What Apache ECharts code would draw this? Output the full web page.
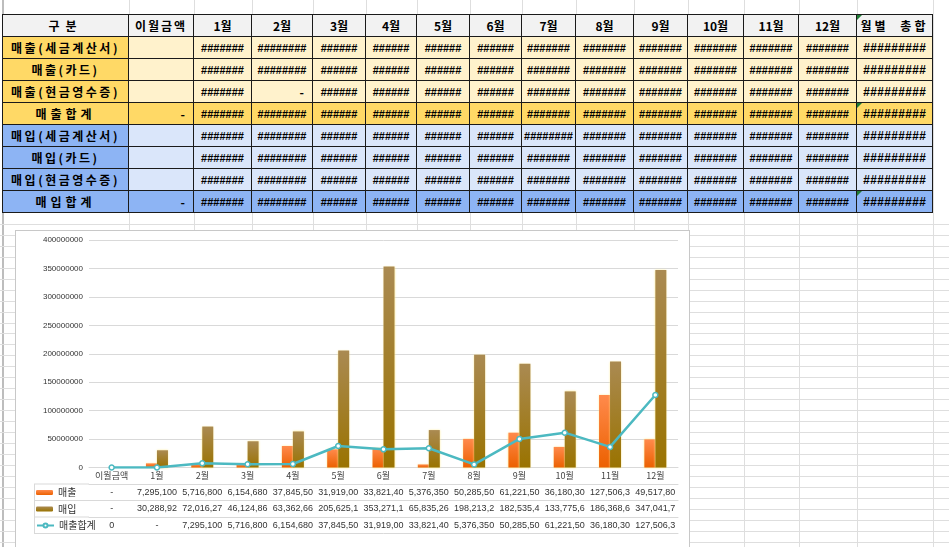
<!DOCTYPE html>
<html>
<head>
<meta charset="utf-8">
<script src="https://cdn.jsdelivr.net/npm/echarts@6.0.0/dist/echarts.min.js"></script>
<style>
html, body { margin: 0; padding: 0; }
body { width: 949px; height: 547px; overflow: hidden; position: relative; background: #fff;
       font-family: 'Noto Sans CJK KR', sans-serif; }
.gl { position: absolute; background: #dedede; }
.cell { position: absolute; box-sizing: border-box; border-right: 1px solid #1a1a1a; border-bottom: 1px solid #1a1a1a;
        display: flex; align-items: center; justify-content: center; font-weight: bold; font-size: 12px;
        color: #000; white-space: nowrap; overflow: hidden; }
.hash { font-family: 'Liberation Sans', sans-serif; font-size: 11px; font-weight: bold; }
.hashTotal { font-family: 'Liberation Sans', sans-serif; font-size: 12px; font-weight: bold; font-style: italic; letter-spacing: 0.3px; }
.right { justify-content: flex-end; padding-right: 8px; }
.tri { position: absolute; width: 0; height: 0; border-top: 5px solid #1e7b34; border-right: 5px solid transparent; }
#chart { position: absolute; left: 16px; top: 231px; width: 673px; height: 316px; background: #fff;
         box-shadow: 0 0 0 1px #c8c8c8; }
</style>
</head>
<body>
<div id="chart"></div>
<script>
// 차트 데이터
var categories = ['이월금액', '1월', '2월', '3월', '4월', '5월', '6월', '7월', '8월', '9월', '10월', '11월', '12월'];
var salesData = [0, 7295100, 5716800, 6154680, 37845500, 31919000, 33821400, 5376350, 50285500, 61221500, 36180300, 127506300, 49517800];
var purchaseData = [0, 30288920, 72016270, 46124860, 63362660, 205625100, 353271100, 65835260, 198213200, 182535400, 133775600, 186368600, 347041700];
var salesTotalData = [0, 0, 7295100, 5716800, 6154680, 37845500, 31919000, 33821400, 5376350, 50285500, 61221500, 36180300, 127506300];
var totalCarryText = '0';

// 시트 표
var sheetHeaders = ['구분', '이월금액', '1월', '2월', '3월', '4월', '5월', '6월', '7월', '8월', '9월', '10월', '11월', '12월', '월별 총합'];
var sheetRows = ['매출(세금계산서)', '매출(카드)', '매출(현금영수증)', '매출합계', '매입(세금계산서)', '매입(카드)', '매입(현금영수증)', '매입합계'];
var hashCounts = [7, 8, 6, 6, 6, 6, 7, 7, 7, 7, 7, 7];

/** 시트 격자 */
var colX = [3, 129, 194, 252, 313, 366, 417, 470, 522, 576, 634, 688, 744, 799, 857, 933];
var tableTop = 15, rowH = 22;

function addDiv(cls, css, html) {
    var d = document.createElement('div');
    d.className = cls;
    Object.assign(d.style, css);
    if (html != null) d.innerHTML = html;
    document.body.insertBefore(d, document.getElementById('chart'));
    return d;
}

colX.forEach(function (x) { addDiv('gl', { left: x + 'px', top: '0px', width: '1px', height: '547px' }); });
addDiv('gl', { left: '2px', top: '0px', width: '2px', height: '547px', background: '#bdbdbd' });
for (var gy = 224; gy < 547; gy += 10.95) {
    addDiv('gl', { left: '0px', top: Math.round(gy) + 'px', width: '949px', height: '1px' });
}

function hashes(n) { return new Array(n + 1).join('#'); }

for (var r = 0; r <= sheetRows.length; r++) {
    for (var c = 0; c < colX.length - 1; c++) {
        var cellTop = tableTop + r * rowH;
        var css = {
            left: (c === 0 ? colX[c] - 1 : colX[c]) + 'px', top: (r === 0 ? cellTop - 1 : cellTop) + 'px',
            width: (colX[c + 1] - colX[c] + (c === 0 ? 1 : 0)) + 'px', height: (rowH + (r === 0 ? 1 : 0)) + 'px'
        };
        if (r === 0) css.borderTop = '1px solid #1a1a1a';
        if (c === 0) css.borderLeft = '1px solid #1a1a1a';
        var cls = 'cell', text = '';
        if (r === 0) {
            css.background = '#f2f2f2';
            text = sheetHeaders[c];
            if (c === 0) css.letterSpacing = '6px';
            if (c === 1) css.letterSpacing = '2px';
            if (c === 14) { css.letterSpacing = '3px'; css.wordSpacing = '6px'; }
        } else {
            var ri = r - 1;
            var isSales = ri < 4;
            var isTotal = ri === 3 || ri === 7;
            var strong = isSales ? '#ffd966' : '#8db4f4';
            var light = isSales ? '#fff2cc' : '#dae6fa';
            css.background = (c === 0 || isTotal) ? strong : light;
            if (c === 0) {
                text = sheetRows[ri];
                css.letterSpacing = isTotal ? '4px' : '2.5px';
            } else if (c === 1) {
                if (isTotal) { text = '-'; cls += ' right'; }
            } else if (c === 14) {
                text = hashes(9); cls += ' hashTotal';
            } else {
                var n = hashCounts[c - 2];
                if (ri === 4 && c === 8) n = 8;
                if (ri === 2 && c === 3) { text = '-'; cls += ' right'; }
                else { text = hashes(n); cls += ' hash'; }
            }
        }
        addDiv(cls, css, text);
    }
}
[0, 4, 8].forEach(function (r) {
    addDiv('tri', { left: colX[14] + 'px', top: (tableTop + r * rowH) + 'px' });
});

/** 데이터 표 텍스트 */
function cellText(v) { return v === 0 ? '-' : v.toLocaleString('en-US').slice(0, 9); }
var salesText = salesData.map(cellText);
var purchaseText = purchaseData.map(cellText);
var totalText = salesTotalData.map(function (v, i) { return i === 0 ? totalCarryText : cellText(v); });

function rowAxis(labels, offset, showLabel) {
    return {
        type: 'category',
        position: 'bottom',
        offset: offset,
        data: labels,
        axisLine: { lineStyle: { color: '#d9d9d9' } },
        axisTick: { show: false },
        axisLabel: {
            show: showLabel, interval: 0, margin: 4, fontSize: 9, color: '#333',
            fontFamily: 'Liberation Sans, Noto Sans CJK KR'
        },
        splitLine: { show: false }
    };
}

function grad(topColor, bottomColor) {
    return new echarts.graphic.LinearGradient(0, 0, 0, 1, [
        { offset: 0, color: topColor },
        { offset: 1, color: bottomColor }
    ]);
}

var legendCommon = {
    left: 20, padding: 0, itemWidth: 17, itemHeight: 5, itemGap: 0,
    textStyle: { fontSize: 10, color: '#333', lineHeight: 12, fontFamily: 'Noto Sans CJK KR' }
};

var theChart = echarts.init(document.getElementById('chart'));
var option = {
    animation: false,
    backgroundColor: '#fff',
    grid: { left: 73, right: 11, top: 9, bottom: 79.5 },
    legend: [
        Object.assign({ data: ['매출'], top: 255.5 }, legendCommon),
        Object.assign({ data: ['매입'], top: 272 }, legendCommon),
        Object.assign({ data: ['매출합계'], top: 288.5 }, legendCommon)
    ],
    graphic: [253, 269.5, 286, 302.5].map(function (yy) {
        return { type: 'line', shape: { x1: 18, y1: yy, x2: 73, y2: yy }, style: { stroke: '#d9d9d9', lineWidth: 1 } };
    }).concat([
        { type: 'line', shape: { x1: 18.5, y1: 253, x2: 18.5, y2: 302.5 }, style: { stroke: '#d9d9d9', lineWidth: 1 } }
    ]),
    xAxis: [
        {
            type: 'category',
            data: categories,
            axisLine: { lineStyle: { color: '#d9d9d9' } },
            axisTick: { length: 66, interval: 0, lineStyle: { color: '#d9d9d9' } },
            axisLabel: { interval: 0, margin: 4, fontSize: 9, color: '#444', fontFamily: 'Noto Sans CJK KR' }
        },
        rowAxis(salesText, 16.5, true),
        rowAxis(purchaseText, 33, true),
        rowAxis(totalText, 49.5, true),
        rowAxis(categories, 66, false)
    ],
    yAxis: {
        type: 'value',
        min: 0,
        max: 400000000,
        interval: 50000000,
        axisLine: { show: false },
        axisTick: { show: false },
        axisLabel: {
            fontSize: 8, color: '#333', margin: 6, fontFamily: 'Liberation Sans',
            formatter: function (v) { return String(v); }
        },
        splitLine: { lineStyle: { color: '#d9d9d9' } }
    },
    series: [{
        name: '매출',
        type: 'bar',
        data: salesData,
        barWidth: 11,
        barGap: '0%',
        itemStyle: { color: grad('#ff8a4c', '#ec6100'), shadowColor: 'rgba(255,236,140,0.8)', shadowBlur: 2 }
    }, {
        name: '매입',
        type: 'bar',
        data: purchaseData,
        barWidth: 11,
        barGap: '0%',
        itemStyle: { color: grad('#aa8a52', '#9a7300'), shadowColor: 'rgba(255,236,140,0.8)', shadowBlur: 2 }
    }, {
        name: '매출합계',
        type: 'line',
        data: salesTotalData,
        symbol: 'circle',
        symbolSize: 5,
        showAllSymbol: true,
        z: 5,
        lineStyle: { color: '#4cb9c1', width: 2.5 },
        itemStyle: { color: '#ffffff', borderColor: '#4cb9c1', borderWidth: 1.5 }
    }]
};
theChart.setOption(option);
</script>
</body>
</html>
